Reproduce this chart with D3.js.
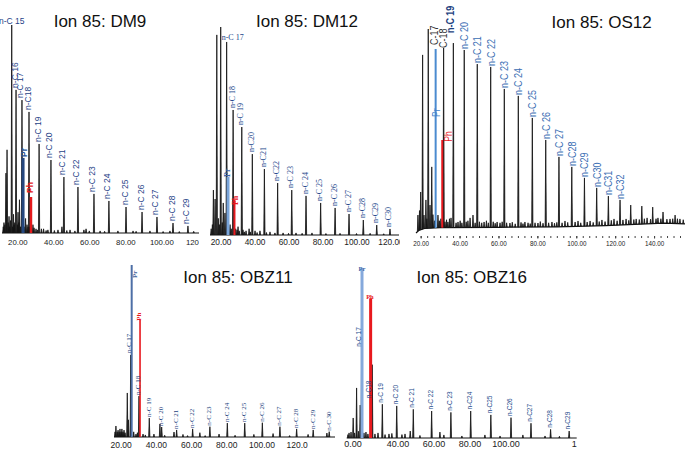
<!DOCTYPE html>
<html>
<head>
<meta charset="utf-8">
<script src="https://cdn.jsdelivr.net/npm/d3@7"></script>
<style>
body { margin: 0; background: #fff; }
svg { display: block; font-family: "Liberation Sans", Arial, sans-serif; }
</style>
</head>
<body>
<svg width="685" height="450"></svg>
<script>
var svg = d3.select("svg");

var titles = ["Ion 85: DM9", "Ion 85: DM12", "Ion 85: OS12", "Ion 85: OBZ11", "Ion 85: OBZ16"];
var isoNames = ["Pr", "Ph"];

// DM9  (retention time in min, abundance in % of tallest peak)
var dm9Names = ["n-C 15","n-C 16","n-C 17","n-C18","n-C 19","n-C 20","n-C 21","n-C 22","n-C 23","n-C 24","n-C 25","n-C 26","n-C 27","n-C 28","n-C 29"];
var dm9Times = [16.9,19.3,22.6,26.5,32.1,38.7,45.9,53.7,62.6,70.9,80.4,89.3,97.6,106.5,114.8];
var dm9Heights = [100,68.8,63.9,58.2,42.8,35.1,26.9,22.1,18.8,15.4,12.5,10.1,7.7,4.8,3.4];
var dm9IsoTimes = [23.2,27.6];
var dm9IsoHeights = [36.1,17.3];
var dm9Minor = [[12.2,3],[12.6,5],[13.1,4],[13.7,28.8],[14.3,40],[14.9,5],[15.4,8],[15.8,3],[16.2,6],[17.4,3],[17.9,9],[18.2,4],[18.6,5],
  [20.0,4],[20.4,10],[20.9,5],[21.2,16],[21.8,3],[23.8,3],[24.6,7],[25.4,4],[26.0,3],[27.0,3],[28.0,2],[28.7,4],[29.3,2.5],[30.4,2],
  [31.2,1.5],[33.4,2],[34.6,2],[36.0,1.2],[37.0,1.5],[40.6,1.2],[42.6,1.5],[44.8,3],[47.5,1.2],[49.3,1.5],[52,1],[57,1.5],[58.2,2],
  [60,1],[66,1],[68.5,0.8],[75.9,1],[84.3,1],[86,0.8],[93.7,1],[101,0.7],[104.8,1],[110,0.7],[118,0.8]];
var dm9Ticks = [20,40,60,80,100,120];
var dm9TickText = ["20.00","40.00","60.00","80.00","100.00","120.00"];

// DM12
var dm12Names = ["n-C 17","n-C 18","n-C 19","n-C20","n-C21","n-C22","n-C 23","n-C 24","n-C 25","n-C 26","n-C 27","n-C28","n-C29","n-C30"];
var dm12Times = [23.6,27.4,32.5,38.7,45.8,53.6,61.9,70.3,78.9,87.4,95.6,104,111.9,119.7];
var dm12Heights = [92.8,60.1,51.9,38.9,31.7,25,21.6,18.8,15.4,13,10.1,7.2,4.8,2.9];
var dm12IsoTimes = [24.4,28.2];
var dm12IsoHeights = [27.9,16.8];
var dm12Minor = [[14.5,3],[15.2,5],[15.8,21.6],[16.8,17.3],[17.8,96.2],[18.7,8],[19.3,5],[20.1,100],[21.0,6],[21.6,15.4],[22.6,10.6],
  [24.8,4],[25.6,5],[26.3,3],[28.9,3],[29.7,2.5],[30.3,4],[31.0,2],[33.2,2.5],[34.0,1.5],[35,2],[36.8,3],[37.5,1.5],[40.3,2],[41.5,1.2],
  [43.2,2],[47,1.2],[49.1,1.5],[52,1],[56.8,1],[60,0.8],[64.4,1],[68,0.8],[73.8,1],[82,0.7],[90.3,0.8],[100,0.7],[108,0.8],[116,0.6]];
var dm12Ticks = [20,40,60,80,100,120];
var dm12TickText = ["20.00","40.00","60.00","80.00","100.00","120.00"];

// OS12
var os12Names = ["C-17","C-18","n-C 19","n-C 20","n-C 21","n-C 22","n-C 23","n-C 24","n-C 25","n-C 26","n-C 27","n-C28","n-C29","n-C30","n-C31","n-C32"];
var os12Times = [23.9,31.8,36.8,42.4,49.1,56,63,70.2,77.4,84.3,91.1,97.7,104.2,110.5,116.5,122.5];
var os12Heights = [100,90.7,93.1,89.7,82.8,81.4,70.6,67.2,56.4,45.6,37.3,32.4,27,22.1,18.1,16.2];
var os12IsoTimes = [27.7,31.1];
var os12IsoHeights = [90.2,45.6];
var os12BaseTimes = [17.6,19,22,30,60,90,115,130,145,155.9];
var os12BaseLevels = [0,1.2,2.2,2.6,2.8,3.0,3.6,4.2,4.8,4.5];
var os12Minor = [[18.6,8.8],[19.4,11],[20,20.1],[21,87.3],[21.7,8.8],[22.7,16.2],[23.2,7],[24.8,13.7],[25.7,32.4],[26.3,9],[27.1,6],
  [28.9,8.8],[29.6,6],[30.4,7],[32.5,5.5],[33.3,6.5],[34,5.4],[34.8,7],[35.6,7.4],[38.2,5],[39.2,5.4],[40.3,6],[41.2,5],[43.4,5.5],
  [44.3,6],[45.4,7.4],[46.9,8.8],[48,5],[50.2,5.5],[51.4,5],[52.6,5.4],[53.8,6],[54.8,5],[57.3,5.5],[58.3,4.8],[59.3,5.4],[60.8,5],
  [61.9,5.5],[64.2,5],[65.9,4.9],[67.1,5.3],[68.6,4.5],[71.6,5.2],[72.6,4.6],[73.6,5.4],[75.2,5],[76.3,4.6],[78.8,5],[80.3,4.9],
  [81.5,5.6],[82.9,4.8],[85.8,5],[87.5,5.4],[88.8,4.8],[90,5.2],[92.7,5],[94.2,5.9],[95.6,5.2],[99.4,5.4],[100.9,5.9],[102.3,5],
  [105.6,5.4],[107.1,5.9],[108.7,5.2],[111.8,5.6],[113.2,6.4],[114.8,5.6],[118,6.2],[119.4,6.9],[121,6],[124,6.4],[125.6,6.9],
  [127,6.2],[128,13.7],[129.6,6.6],[130.8,6.9],[132.4,6.6],[133.7,13.2],[135,7],[136.4,7.4],[138.2,6.8],[139.3,12.7],[141,7],
  [142,7.4],[143.5,7],[144.6,10.3],[146.6,6.8],[148.2,6.9],[149.6,7],[150.8,8.8],[152,7],[153.3,6.9],[155,6.5]];
var os12Ticks = [20,40,60,80,100,120,140];
var os12TickText = ["20.00","40.00","60.00","80.00","100.00","120.00","140.00"];

// OBZ11
var obz11Names = ["n-C 17","n-C 18","n-C 19","n-C 20","n-C 21","n-C 22","n-C 23","n-C 24","n-C 25","n-C 26","n-C 27","n-C 28","n-C 29","n-C 30"];
var obz11Times = [25.7,30.4,36.25,43.3,51.8,60.9,70.7,80.6,90.5,100.5,110.5,120,129.4,138.5];
var obz11Heights = [47.7,23.8,11,5.8,4.1,4.7,6,8.1,8.1,8.3,6,4.7,4.1,3.1];
var obz11IsoTimes = [26.25,31];
var obz11IsoHeights = [100,68];
var obz11Minor = [[16.8,3],[17.3,6.4],[18.0,3],[18.5,4],[19.1,3],[19.6,4.7],[20.2,3],[20.7,4.7],[21.3,3],[21.9,4],[22.5,2.5],
  [23.75,25.6],[24.4,10],[27.4,3],[28.7,1.7],[29.5,2.5],[32.7,1.7],[34,1.2],[38.9,1.7],[42.3,7.6],[45,1],[50.3,2.9],[55.4,1.5],
  [58,0.8],[65,2.5],[68,0.8],[75.9,1.7],[85,1],[95.7,1.5],[106.6,2],[116,0.8],[126.5,1.5],[137.2,2.3]];
var obz11Ticks = [20,40,60,80,100,120];
var obz11TickText = ["20.00","40.00","60.00","80.00","100.00","120.0"];

// OBZ16
var obz16Names = ["n-C 17","n-C18","n-C 19","n-C 20","n-C 21","n-C 22","n-C 23","n-C24","n-C25","n-C26","n-C27","n-C28","n-C29"];
var obz16Times = [20.1,26.0,31.6,39.6,48.8,59,69.7,80.7,91.9,103.1,114.2,125.1,135.4];
var obz16Heights = [52,43.2,19.9,18.9,16.9,15.9,15.1,15.9,13.6,12,8.7,5.1,4.1];
var obz16IsoTimes = [20.3,25.1];
var obz16IsoHeights = [100,82.3];
var obz16Minor = [[12.5,2],[13.1,3],[14.2,3.5],[15.4,11.8],[16.2,3],[17.3,29.5],[18.3,4],[19.3,19.4],[21.4,3],[22.5,3.5],[23.6,2.4],
  [27.5,2.4],[29.2,3],[33.1,2],[35.3,2.4],[36.9,2.7],[42.5,2],[44.2,2.4],[47.1,4.1],[52.5,1.5],[63.6,3.5],[65.8,1.8],[75.8,1.2],
  [88.6,1.8],[97,1.2],[109.7,1.8],[122,1.2],[130,1]];
var obz16Ticks = [15,40,60,80,100,138];
var obz16TickText = ["0.00","40.00","60.00","80.00","100.00","1"];

var SANS = "'Liberation Sans', Arial, sans-serif";
var SERIF = "'Liberation Serif', 'Times New Roman', serif";

var panels = [
  { id: "dm9", title: titles[0], names: dm9Names, times: dm9Times, heights: dm9Heights,
    isoT: dm9IsoTimes, isoH: dm9IsoHeights, minor: dm9Minor, ticks: dm9Ticks, tickText: dm9TickText,
    domain: [11.5, 121.5], left: 2, right: 200, base: 233, top: 25, clip: [0, 0, 199, 250],
    titleX: 100, titleY: 27,
    font: "bold 8.5px " + SANS, labColor: "#1f4387", dx: 1.5, dy: 2, sx: 1,
    over: { "n-C 15": { horiz: true, anchor: "middle", dx: 0, dy: 1 } },
    isoColor: ["#24477f", "#e41a1c"], isoWidth: [3, 2.5], isoFont: "bold 8.5px " + SANS,
    isoLabColor: ["#2c5595", "#e41a1c"], isoLab: [{ dx: 3.6, dy: 1 }, { dx: 2.3, dy: 4 }],
    tickFont: "7.8px " + SANS, axisY: 233, tickSize: 0, pad: 6.5 },
  { id: "dm12", title: titles[1], names: dm12Names, times: dm12Times, heights: dm12Heights,
    isoT: dm12IsoTimes, isoH: dm12IsoHeights, minor: dm12Minor, ticks: dm12Ticks, tickText: dm12TickText,
    domain: [13.8, 125], left: 210, right: 399, base: 235, top: 27, clip: [205, 0, 195, 250],
    titleX: 307, titleY: 27,
    font: "bold 8px " + SERIF, labColor: "#22468a", dx: 1.5, dy: 2, sx: 1,
    over: { "n-C 17": { horiz: true, anchor: "start", dx: -5, dy: 2 } },
    isoColor: ["#7aa5da", "#e8191e"], isoWidth: [3, 2], isoFont: "bold 8px " + SERIF,
    isoLabColor: ["#3a64a8", "#e8191e"], isoLab: [{ dx: 2.4, dy: 0 }, { dx: 3.9, dy: -5 }],
    tickFont: "8.3px " + SANS, axisY: 235, tickSize: 0, pad: 4.5 },
  { id: "os12", title: titles[2], names: os12Names, times: os12Times, heights: os12Heights,
    isoT: os12IsoTimes, isoH: os12IsoHeights, minor: os12Minor, ticks: os12Ticks, tickText: os12TickText,
    baseT: os12BaseTimes, baseL: os12BaseLevels,
    domain: [17.6, 155.9], left: 416, right: 685, base: 233, top: 29, clip: [402, 0, 283, 250],
    titleX: 601.7, titleY: 28,
    font: "11.5px " + SANS, labColor: "#3a6db3", dx: 4, dy: 1, sx: 0.78,
    over: { "C-17": { dx: 9.7, dy: -16, color: "#333" },
            "C-18": { dx: 3, dy: 0, color: "#333" },
            "n-C 19": { dx: 0.5, dy: 10, color: "#1e4280", weight: "bold" } },
    isoColor: ["#4b8bd0", "#e8191e"], isoWidth: [2, 2], isoFont: "11px " + SANS,
    isoLabColor: ["#3f7fc8", "#e8191e"], isoLab: [{ dx: 4.3, dy: -68 }, { dx: 9.4, dy: -1.7 }],
    tickFont: "6.3px " + SANS, axisY: 236, tickSize: 2.5, pad: 3, minorTicks: true },
  { id: "obz11", title: titles[3], names: obz11Names, times: obz11Times, heights: obz11Heights,
    isoT: obz11IsoTimes, isoH: obz11IsoHeights, minor: obz11Minor, ticks: obz11Ticks, tickText: obz11TickText,
    domain: [16.2, 141.8], left: 114, right: 335, base: 437, top: 265, clip: [105, 250, 238, 200],
    titleX: 238, titleY: 283,
    font: "bold 7px " + SERIF, labColor: "#1d3f7d", dx: 1.5, dy: 1, sx: 1,
    over: { "n-C 17": { dx: 0.3, dy: 2 } },
    isoColor: ["#4d6fa6", "#e8191e"], isoWidth: [2, 1.6], isoFont: "bold 7px " + SERIF,
    isoLabColor: ["#3f5f98", "#e8191e"], isoLab: [{ dx: 5, dy: -13 }, { dx: 1.3, dy: -0.7 }],
    tickFont: "8.5px " + SANS, axisY: 437, tickSize: 0, pad: 5 },
  { id: "obz16", title: titles[4], names: obz16Names, times: obz16Times, heights: obz16Heights,
    isoT: obz16IsoTimes, isoH: obz16IsoHeights, minor: obz16Minor, ticks: obz16Ticks, tickText: obz16TickText,
    domain: [11.8, 139.6], left: 346.7, right: 576.7, base: 438, top: 268.3, clip: [343, 250, 240, 200],
    titleX: 471.7, titleY: 282.7,
    font: "bold 6.5px " + SANS, labColor: "#244a8c", dx: 1, dy: 1.6, sx: 1,
    over: { "n-C 17": { dx: -1, dy: 3 }, "n-C18": { dx: -1.6, dy: -33.6 } },
    isoColor: ["#85a9dc", "#e8191e"], isoWidth: [3, 3], isoFont: "bold 6.5px " + SERIF,
    isoLabColor: ["#3a64a8", "#e8191e"],
    isoLab: [{ horiz: true, dx: 0, dy: -2.7 }, { horiz: true, dx: -0.7, dy: -0.4 }],
    tickFont: "9px " + SANS, axisY: 438, tickSize: 0, pad: 3 }
];

var defs = svg.append("defs");
panels.forEach(drawPanel);

function drawPanel(p) {
  defs.append("clipPath").attr("id", "clip-" + p.id)
    .append("rect")
      .attr("x", p.clip[0]).attr("y", p.clip[1])
      .attr("width", p.clip[2]).attr("height", p.clip[3]);

  var g = svg.append("g").attr("clip-path", "url(#clip-" + p.id + ")");

  var x = d3.scaleLinear().domain(p.domain).range([p.left, p.right]);
  var y = d3.scaleLinear().domain([0, 100]).range([p.base, p.top]);
  var baseAt = p.baseT ? d3.scaleLinear().domain(p.baseT).range(p.baseL).clamp(true)
                       : function() { return 0; };
  var pxPerMin = (p.right - p.left) / (p.domain[1] - p.domain[0]);
  var w = 0.6 / pxPerMin;

  var line = d3.line()
    .x(function(d) { return x(d[0]); })
    .y(function(d) { return y(d[1]); });

  // title
  svg.append("text")
    .attr("x", p.titleX).attr("y", p.titleY)
    .attr("text-anchor", "middle")
    .style("font", "17px " + SANS)
    .attr("fill", "#111")
    .text(p.title);

  // baseline
  var basePts = p.baseT ? p.baseT.map(function(t, i) { return [t, p.baseL[i]]; })
                        : [[p.domain[0], 0], [p.domain[1], 0]];
  g.append("path")
    .attr("d", line(basePts))
    .attr("fill", "none")
    .attr("stroke", "#111")
    .attr("stroke-width", 1.2);

  // peaks (minor + n-alkanes)
  var peaks = p.minor.map(function(d) { return { t: d[0], h: d[1] }; })
    .concat(p.times.map(function(t, i) { return { t: t, h: p.heights[i] }; }));

  g.selectAll("path.peak")
    .data(peaks)
    .join("path")
      .attr("class", "peak")
      .attr("d", function(d) {
        return line([[d.t - w, baseAt(d.t - w)], [d.t, d.h], [d.t + w, baseAt(d.t + w)]]);
      })
      .attr("fill", "#222")
      .attr("stroke", "#111")
      .attr("stroke-width", 0.8)
      .attr("stroke-linejoin", "round");

  // pristane / phytane bars
  var iso = p.isoT.map(function(t, i) { return { t: t, h: p.isoH[i], i: i }; });
  g.selectAll("line.iso")
    .data(iso)
    .join("line")
      .attr("class", "iso")
      .attr("x1", function(d) { return x(d.t); })
      .attr("x2", function(d) { return x(d.t); })
      .attr("y1", function(d) { return y(baseAt(d.t)); })
      .attr("y2", function(d) { return y(d.h); })
      .attr("stroke", function(d) { return p.isoColor[d.i]; })
      .attr("stroke-width", function(d) { return p.isoWidth[d.i]; });

  // n-alkane labels
  var labs = p.times.map(function(t, i) { return { t: t, h: p.heights[i], name: p.names[i] }; });
  g.selectAll("text.lab")
    .data(labs)
    .join("text")
      .attr("class", "lab")
      .attr("transform", function(d) {
        var o = p.over[d.name] || {};
        var dx = o.dx != null ? o.dx : p.dx;
        var dy = o.dy != null ? o.dy : p.dy;
        var tx = x(d.t) + dx, ty = y(d.h) - dy;
        if (o.horiz) return "translate(" + tx + "," + ty + ")";
        return "translate(" + tx + "," + ty + ") rotate(-90) scale(" + p.sx + ",1)";
      })
      .attr("text-anchor", function(d) { var o = p.over[d.name] || {}; return o.anchor || "start"; })
      .style("font", p.font)
      .style("font-weight", function(d) { var o = p.over[d.name] || {}; return o.weight || null; })
      .attr("fill", function(d) { var o = p.over[d.name] || {}; return o.color || p.labColor; })
      .text(function(d) { return d.name; });

  // Pr / Ph labels
  g.selectAll("text.isolab")
    .data(iso)
    .join("text")
      .attr("class", "isolab")
      .attr("transform", function(d) {
        var o = p.isoLab[d.i];
        var tx = x(d.t) + o.dx, ty = y(d.h) - o.dy;
        if (o.horiz) return "translate(" + tx + "," + ty + ")";
        return "translate(" + tx + "," + ty + ") rotate(-90) scale(" + p.sx + ",1)";
      })
      .attr("text-anchor", function(d) { return p.isoLab[d.i].horiz ? "middle" : "start"; })
      .style("font", p.isoFont)
      .attr("fill", function(d) { return p.isoLabColor[d.i]; })
      .text(function(d) { return isoNames[d.i]; });

  // time axis
  var axis = d3.axisBottom(x)
    .tickValues(p.ticks)
    .tickFormat(function(d, i) { return p.tickText[i]; })
    .tickSize(p.tickSize)
    .tickPadding(p.pad);
  var ag = g.append("g")
    .attr("transform", "translate(0," + p.axisY + ")")
    .call(axis);
  ag.select(".domain").remove();
  ag.selectAll("text").style("font", p.tickFont).attr("fill", "#222");
  ag.selectAll("line").attr("stroke", "#333");

  if (p.minorTicks) {
    var mg = g.append("g")
      .attr("transform", "translate(0," + p.axisY + ")")
      .call(d3.axisBottom(x).tickValues(d3.range(20, 156, 10 / 3)).tickFormat("").tickSize(2));
    mg.select(".domain").remove();
    mg.selectAll("line").attr("stroke", "#444");
  }
}
</script>
</body>
</html>
